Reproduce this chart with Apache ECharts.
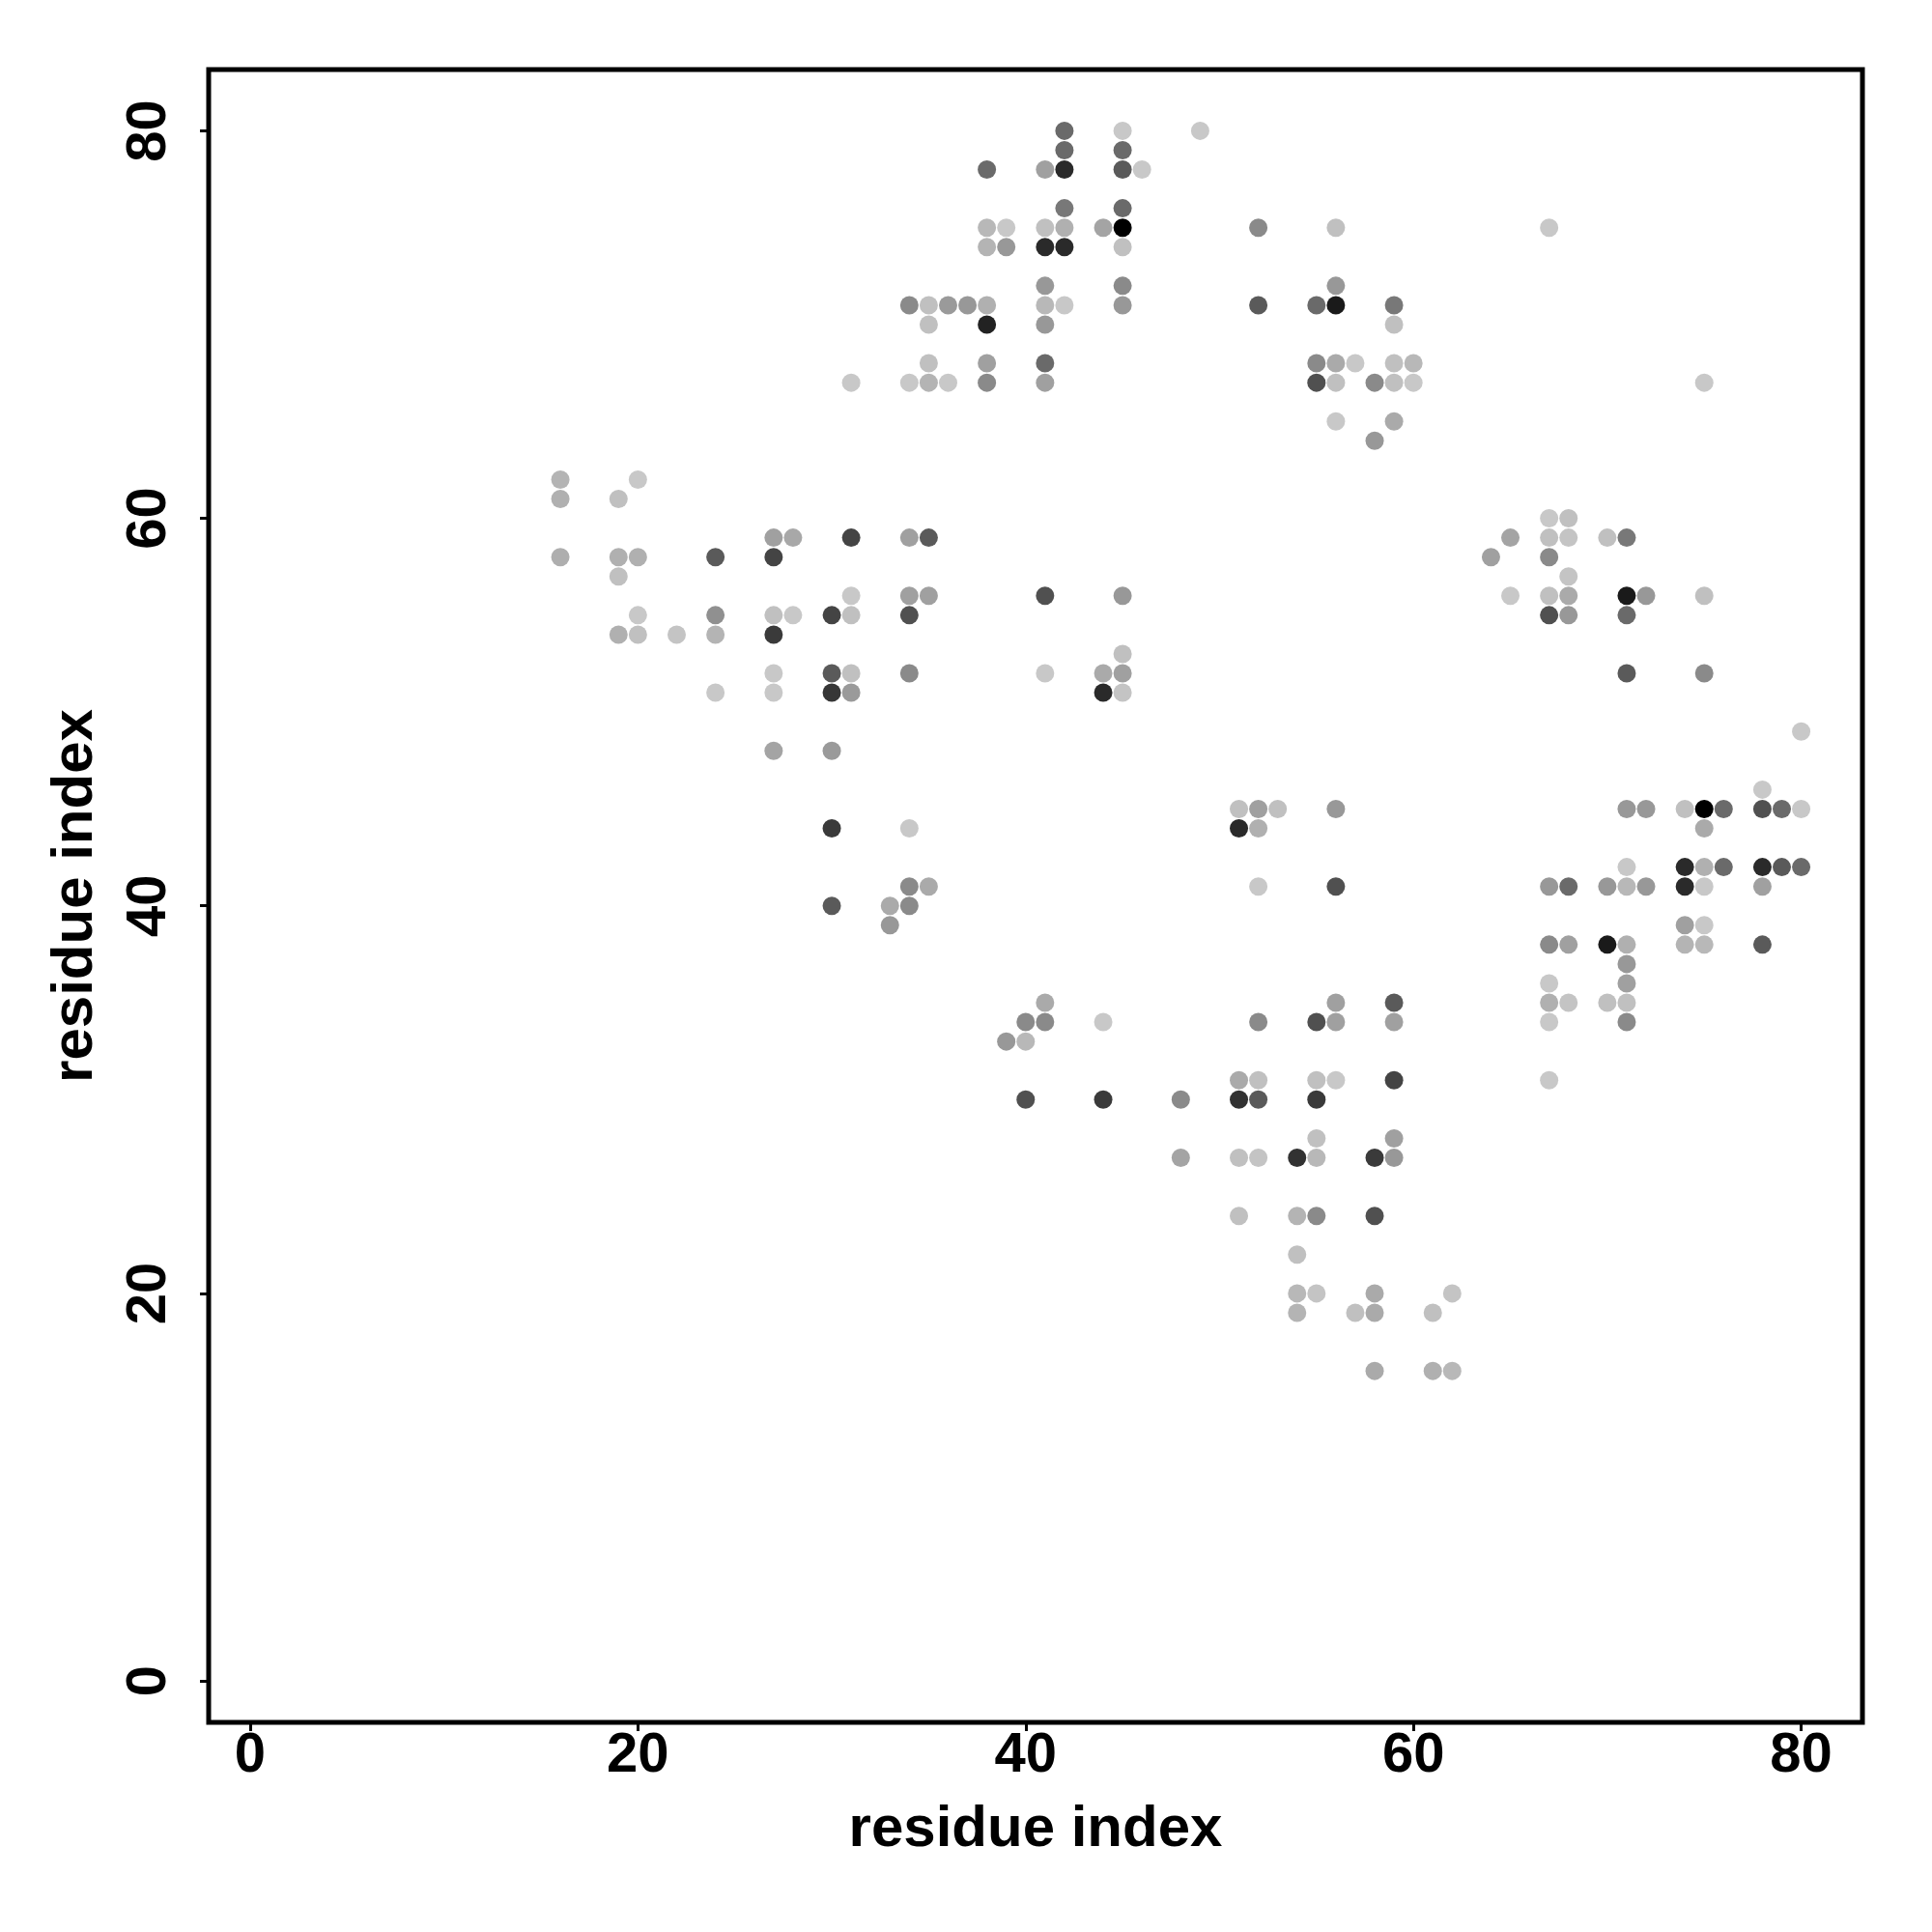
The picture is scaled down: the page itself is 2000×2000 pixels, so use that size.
<!DOCTYPE html>
<html><head><meta charset="utf-8">
<script src="https://cdn.jsdelivr.net/npm/echarts@6/dist/echarts.min.js"></script>
<style>html,body{margin:0;padding:0;background:#fff}#c{width:2000px;height:2000px}</style>
</head><body><div id="c"></div>
<script>
// tick labels and axis titles
const tickValues = [0, 20, 40, 60, 80];
const xTitle = 'residue index';
const yTitle = 'residue index';

// contacts: [residue i, residue j, contact score 0..100 (darker = higher)]
const clusterA = [
  [16,62,10],[16,61,12],[16,58,13],[20,62,0],[19,61,4],[19,58,12],[20,58,12],[19,57,4],
  [24,58,55],[27,59,20],[28,59,16],[31,59,66],[27,58,66],[31,56,0],[20,55,0],[24,55,28],
  [27,55,4],[28,55,0],[30,55,66],[31,55,4],[19,54,12],[20,54,4],[22,54,2],[24,54,10],
  [27,54,71],[27,52,0],[30,52,55],[31,52,4],[24,51,0],[27,51,0],[30,51,73],[31,51,23],
  [27,48,18],[30,48,23],[34,59,20],[35,59,55],[34,56,20],[35,56,20],[34,55,60],[34,52,31],
  [41,56,60],[45,56,24],[45,53,4],[41,52,0],[44,52,15],[45,52,20],[44,51,79],[45,51,2]
];
const clusterB = [
  [42,80,47],[45,80,0],[42,79,47],[45,79,47],[38,78,47],[41,78,20],[42,78,79],[45,78,55],
  [46,78,0],[42,76,40],[45,76,47],[38,75,8],[39,75,0],[41,75,4],[42,75,12],[44,75,18],
  [45,75,100],[38,74,10],[39,74,24],[41,74,79],[42,74,79],[45,74,4],[41,72,24],[45,72,31],
  [34,71,31],[35,71,4],[36,71,23],[37,71,24],[38,71,12],[41,71,8],[42,71,0],[45,71,24],
  [35,70,4],[38,70,83],[41,70,24],[35,68,4],[38,68,20],[41,68,47],[31,67,0],[34,67,0],
  [35,67,10],[36,67,0],[38,67,31],[41,67,20]
];
const clusterC = [
  [49,80,0],[52,75,31],[56,75,4],[56,72,24],[52,71,55],[55,71,47],[56,71,87],[59,71,40],
  [59,70,4],[55,68,31],[56,68,15],[57,68,0],[59,68,4],[60,68,8],[55,67,60],[56,67,4],
  [58,67,31],[59,67,4],[60,67,0],[56,65,0],[59,65,15],[58,64,24]
];
const clusterD = [
  [67,60,0],[68,60,4],[65,59,18],[67,59,4],[68,59,2],[70,59,4],[71,59,40],[64,58,20],
  [67,58,31],[68,57,2],[65,56,0],[67,56,4],[68,56,15],[71,56,87],[72,56,24],[75,56,4],
  [67,55,60],[68,55,24],[71,55,47],[71,52,55],[75,52,31],[80,49,0],[75,67,0],[67,75,0]
];
const clusterE = [
  [78,46,0],[71,45,24],[72,45,24],[74,45,4],[75,45,100],[76,45,47],[78,45,60],[79,45,47],
  [80,45,0],[75,44,15],[71,42,0],[74,42,79],[75,42,12],[76,42,47],[78,42,79],[79,42,55],
  [80,42,47],[67,41,24],[68,41,47],[70,41,24],[71,41,8],[72,41,24],[74,41,79],[75,41,0],
  [78,41,20],[74,39,20],[75,39,0],[67,38,31],[68,38,20],[70,38,87],[71,38,12],[74,38,10],
  [75,38,8],[78,38,55],[71,37,24],[67,36,0],[71,36,20],[67,35,12],[68,35,2],[70,35,4],
  [71,35,4],[67,34,0],[71,34,31],[67,31,0]
];
const clusterF = [
  [30,44,71],[34,44,0],[34,41,31],[35,41,15],[30,40,55],[33,40,15],[34,40,31],[33,39,24],
  [41,35,15],[40,34,31],[41,34,31],[44,34,0],[39,33,24],[40,33,8],[40,30,60],[44,30,71]
];
const clusterG = [
  [51,45,4],[52,45,20],[53,45,4],[56,45,24],[51,44,79],[52,44,12],[52,41,0],[56,41,60],
  [56,35,20],[59,35,55],[52,34,31],[55,34,60],[56,34,20],[59,34,20],[51,31,15],[52,31,4],
  [55,31,4],[56,31,0],[59,31,66],[48,30,31],[51,30,75],[52,30,55],[55,30,71],[55,28,4],
  [59,28,20],[48,27,18],[51,27,4],[52,27,2],[54,27,75],[55,27,8],[58,27,71],[59,27,24],
  [51,24,4],[54,24,10],[55,24,31],[58,24,60],[54,22,4],[54,20,8],[55,20,2],[58,20,15],
  [62,20,2],[54,19,10],[57,19,4],[58,19,15],[61,19,4],[58,16,15],[61,16,12],[62,16,8]
];

const allContacts = [].concat(clusterA, clusterB, clusterC, clusterD, clusterE, clusterF, clusterG);

const font = {fontFamily: 'Liberation Sans', fontWeight: 'bold', fontSize: 58, color: '#000'};
const titleFont = {fontFamily: 'Liberation Sans', fontWeight: 'bold', fontSize: 60, color: '#000'};
const chart = echarts.init(document.getElementById('c'), null, {renderer: 'canvas'});
chart.setOption({
  animation: false,
  backgroundColor: '#fff',
  grid: {left: 216, right: 72, top: 72, bottom: 217, show: true, borderColor: '#000', borderWidth: 5, backgroundColor: 'transparent'},
  visualMap: {show: false, type: 'continuous', dimension: 2, min: 0, max: 100, inRange: {color: ['#c8c8c8', '#000000']}},
  xAxis: {
    type: 'value', min: -2.14, max: 83.16,
    splitLine: {show: false}, axisLine: {show: false, onZero: false},
    axisTick: {show: true, customValues: tickValues, length: 9, lineStyle: {color: '#000', width: 3}},
    axisLabel: Object.assign({customValues: tickValues, margin: 6}, font),
    name: xTitle, nameLocation: 'middle', nameGap: 81, nameTextStyle: Object.assign({}, titleFont)
  },
  yAxis: {
    type: 'value', min: -2.14, max: 83.16,
    splitLine: {show: false}, axisLine: {show: false, onZero: false},
    axisTick: {show: true, customValues: tickValues, length: 9, lineStyle: {color: '#000', width: 3}},
    axisLabel: Object.assign({customValues: tickValues, margin: 32, rotate: 90}, font),
    name: yTitle, nameLocation: 'middle', nameGap: 108, nameRotate: 90, nameTextStyle: Object.assign({}, titleFont)
  },
  series: [{type: 'scatter', symbol: 'circle', symbolSize: 19, data: allContacts, itemStyle: {opacity: 1}}]
});
</script>
</body></html>
